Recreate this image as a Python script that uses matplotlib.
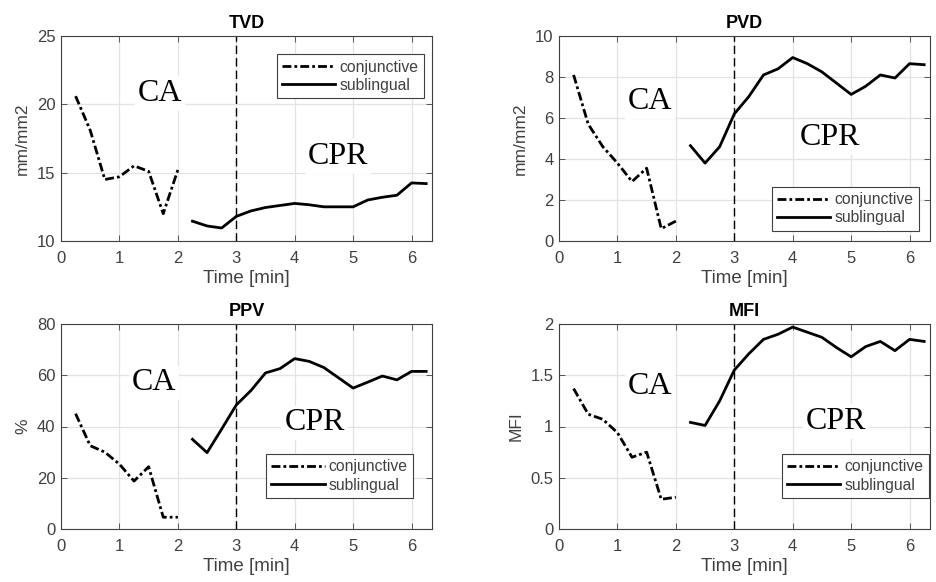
import matplotlib
matplotlib.use("Agg")
import matplotlib.pyplot as plt

# time points (min)
t_conj = [0.25, 0.5, 0.75, 1.0, 1.25, 1.5, 1.75, 2.0]
t_subl = [2.25, 2.5, 2.75, 3.0, 3.25, 3.5, 3.75, 4.0, 4.25, 4.5,
          4.75, 5.0, 5.25, 5.5, 5.75, 6.0, 6.25]

tvd_conj = [20.6, 18.1, 14.5, 14.7, 15.5, 15.1, 12.0, 15.2]
tvd_subl = [11.45, 11.1, 10.95, 11.8, 12.2, 12.45, 12.6, 12.75, 12.65, 12.5,
            12.5, 12.5, 13.0, 13.2, 13.35, 14.25, 14.2]

pvd_conj = [8.1, 5.7, 4.6, 3.8, 2.9, 3.55, 0.6, 0.97]
pvd_subl = [4.65, 3.8, 4.6, 6.2, 7.05, 8.1, 8.4, 8.95, 8.65, 8.25,
            7.7, 7.15, 7.55, 8.1, 7.95, 8.65, 8.6]

ppv_conj = [45, 32.5, 30, 25.3, 18.7, 24.3, 4.6, 4.6]
ppv_subl = [35, 29.8, 39, 48.4, 54, 60.9, 62.6, 66.5, 65.4, 63,
            59, 55, 57.3, 59.7, 58.2, 61.5, 61.5]

mfi_conj = [1.37, 1.12, 1.07, 0.94, 0.70, 0.75, 0.29, 0.31]
mfi_subl = [1.04, 1.01, 1.25, 1.55, 1.71, 1.85, 1.90, 1.97, 1.92, 1.87,
            1.77, 1.68, 1.78, 1.83, 1.74, 1.85, 1.83]

W, H = 936, 582
fig = plt.figure(figsize=(W / 100, H / 100), dpi=100)
plt.rcParams['font.family'] = ['Liberation Sans', 'DejaVu Sans']

grey = '#404040'


def panel(px, py, title, ylabel, conj, subl, ylim, yticks, ytl,
          leg_anchor, leg_loc, ca_xy, cpr_xy):
    ax = fig.add_axes([px / W, (H - py - 205) / H, 371 / W, 205 / H])
    ax.plot(t_conj, conj, color='black', lw=2, ls='-.', label='conjunctive',
            dashes=(3.2, 1.1, 1.0, 1.1))
    ax.plot(t_subl, subl, color='black', lw=2, ls='-', label='sublingual')
    ax.axvline(3, color='black', lw=1, ls=(0, (6, 3)))
    ax.set_xlim(0, 6.35)
    ax.set_ylim(*ylim)
    ax.set_xticks(range(7))
    ax.set_yticks(yticks)
    ax.set_yticklabels(ytl)
    ax.grid(True, color='#e3e3e3', lw=0.9)
    ax.set_axisbelow(True)
    ax.tick_params(direction='in', top=True, right=True, labelsize=12,
                   colors=grey, length=4, width=0.6)
    ax.tick_params(axis='x', pad=7)
    ax.tick_params(axis='y', pad=4)
    for s in ax.spines.values():
        s.set_color(grey)
        s.set_linewidth(0.8)
    ax.set_title(title, fontsize=13, fontweight='bold', pad=6)
    ax.set_ylabel(ylabel, fontsize=12.5, color=grey, labelpad=5)
    ax.set_xlabel('Time [min]', fontsize=13.5, color=grey, labelpad=3)
    leg = ax.legend(loc=leg_loc, bbox_to_anchor=leg_anchor, borderaxespad=0,
                    fontsize=11.3, handlelength=3.4, handletextpad=0.25,
                    fancybox=False, framealpha=1, edgecolor=grey,
                    borderpad=0.35, labelspacing=0.2)
    leg.get_frame().set_linewidth(0.8)
    for txt in leg.get_texts():
        txt.set_color(grey)
    box = dict(facecolor='white', edgecolor='none', pad=2)
    ax.text(ca_xy[0], ca_xy[1], 'CA', family='Liberation Serif', fontsize=23,
            ha='center', va='center', bbox=box)
    ax.text(cpr_xy[0], cpr_xy[1], 'CPR', family='Liberation Serif',
            fontsize=23, ha='center', va='center', bbox=box)
    return ax


panel(61, 36, 'TVD', 'mm/mm2', tvd_conj, tvd_subl, (10, 25),
      [10, 15, 20, 25], ['10', '15', '20', '25'],
      (0.978, 0.912), 'upper right', (1.69, 20.8), (4.74, 16.2))
panel(559, 36, 'PVD', 'mm/mm2', pvd_conj, pvd_subl, (0, 10),
      [0, 2, 4, 6, 8, 10], ['0', '2', '4', '6', '8', '10'],
      (0.970, 0.049), 'lower right', (1.56, 6.8), (4.63, 5.05))
panel(61, 324, 'PPV', '%', ppv_conj, ppv_subl, (0, 80),
      [0, 20, 40, 60, 80], ['0', '20', '40', '60', '80'],
      (0.949, 0.151), 'lower right', (1.59, 57), (4.34, 41.4))
panel(559, 324, 'MFI', 'MFI', mfi_conj, mfi_subl, (0, 2),
      [0, 0.5, 1, 1.5, 2], ['0', '0.5', '1', '1.5', '2'],
      (0.997, 0.151), 'lower right', (1.56, 1.395), (4.74, 1.05))

fig.savefig('out.png', dpi=100)
